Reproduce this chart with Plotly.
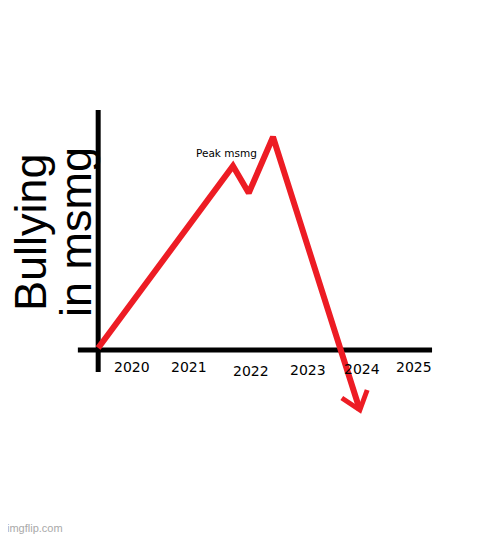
import plotly.graph_objects as go

# ── Data ──────────────────────────────────────────────────────────────────────
years = [2020, 2021, 2022, 2023, 2024, 2025]
year_labels = ["2020", "2021", "2022", "2023", "2024", "2025"]

# bullying trend: rise, first peak, dip, second peak, crash below zero
trend_x = [2019.40, 2021.79, 2022.07, 2022.50, 2024.04]
trend_y = [0, 91, 77.5, 105.5, -31]

# the two strokes of the arrow head
head_x = [2023.72, 2024.04, 2024.17]
head_y = [-25, -31, -21]

peak_label = "Peak msmg"
peak_x, peak_y = 2021.68, 97.5

_RED = "#ed1c24"
_BLACK = "#000000"
_FONT = "DejaVu Sans, Verdana, sans-serif"
_W, _H = 500, 537
_OFF = 8  # page body margin pushes the figure 8px right/down

# small hand-drawn wobble of the year labels (px)
label_dx = [0, 1, 6, 7, 4, 0]
label_dy = [0, 0, -4, -3, -2, 0]


def _paper(sx, sy):
    """screen pixel -> paper coords"""
    return (sx - _OFF) / _W, 1 - (sy - _OFF) / _H


fig = go.Figure()

fig.add_trace(go.Scatter(
    x=trend_x, y=trend_y, mode="lines",
    line=dict(color=_RED, width=6),
    hoverinfo="skip", showlegend=False,
))
fig.add_trace(go.Scatter(
    x=head_x, y=head_y, mode="lines",
    line=dict(color=_RED, width=5),
    hoverinfo="skip", showlegend=False,
))

# hand-drawn axes
fig.add_shape(type="line", x0=2019.04, x1=2025.32, y0=-1, y1=-1,
              line=dict(color=_BLACK, width=5), layer="below")
fig.add_shape(type="line", x0=2019.40, x1=2019.40, y0=-12, y1=119,
              line=dict(color=_BLACK, width=5), layer="below")

annotations = []
for yr, lab, dx, dy in zip(years, year_labels, label_dx, label_dy):
    annotations.append(dict(
        x=yr, y=-9.5, text=lab, showarrow=False,
        xshift=dx, yshift=dy,
        font=dict(family=_FONT, size=14, color=_BLACK),
    ))

annotations.append(dict(
    x=peak_x, y=peak_y, text=peak_label, showarrow=False,
    font=dict(family=_FONT, size=10.5, color=_BLACK),
))

# rotated y title, two separate lines
for txt, sx in (("Bullying", 30), ("in msmg", 75)):
    px, py = _paper(sx, 232)
    annotations.append(dict(
        x=px, y=py, xref="paper", yref="paper",
        xanchor="center", yanchor="middle",
        text=txt, textangle=-90, showarrow=False,
        font=dict(family="Liberation Sans, Arial, sans-serif", size=45, color=_BLACK),
    ))

wx, wy = _paper(5, 528)
annotations.append(dict(
    x=wx, y=wy, xref="paper", yref="paper",
    xanchor="left", yanchor="middle", text="imgflip.com", showarrow=False,
    font=dict(family="Liberation Sans, Arial, sans-serif", size=11, color="#a9a9a9"),
))

fig.update_layout(
    width=_W, height=_H,
    margin=dict(l=0, r=0, t=0, b=0),
    paper_bgcolor="white", plot_bgcolor="white",
    xaxis=dict(range=[2017.801, 2026.667], visible=False, fixedrange=True),
    yaxis=dict(range=[-98.5, 170], visible=False, fixedrange=True),
    annotations=annotations,
    showlegend=False,
)

fig.write_html("out.html")
